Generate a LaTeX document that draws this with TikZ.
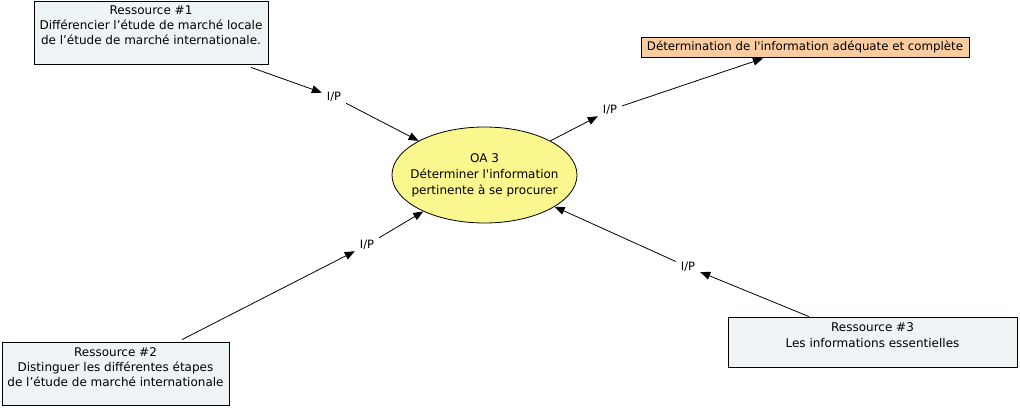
\documentclass[tikz,border=0pt]{standalone}
\usepackage{fontspec}
\setmainfont{DejaVu Sans}
\usetikzlibrary{arrows.meta,shapes.geometric}
\definecolor{boxfill}{RGB}{238,244,246}
\definecolor{ovalfill}{RGB}{250,247,142}
\definecolor{orangefill}{RGB}{251,204,160}
\newcommand{\sq}{\textquotesingle}
\tikzset{
  resbox/.style={draw=black, line width=0.8pt, fill=boxfill, rectangle, inner sep=0pt},
  restext/.style={align=center, inner sep=0pt, font=\fontsize{12}{15.2}\selectfont},
  goal/.style={draw=black, line width=0.8pt, fill=ovalfill, ellipse, inner sep=0pt,
    minimum width=185pt, minimum height=96pt},
  goaltext/.style={align=center, inner sep=0pt, font=\fontsize{12}{16}\selectfont},
  result/.style={draw=black, line width=0.8pt, fill=orangefill, rectangle, inner sep=0pt,
    minimum width=328pt, minimum height=20pt, font=\fontsize{11.8}{13}\selectfont},
  iplabel/.style={inner sep=0pt, minimum width=24pt, minimum height=14pt, font=\fontsize{11.5}{12}\selectfont},
  conn/.style={draw=black, line width=0.8pt, -{Triangle[length=10pt,width=8pt]}}
}
\begin{document}
\begin{tikzpicture}[x=1pt,y=-1pt]
\useasboundingbox (0,0) rectangle (1020,407);
% boxes
\node[resbox, minimum width=234pt, minimum height=63pt] (r1) at (151,32.5) {};
\node[restext, anchor=north] (t1) at ([yshift=-5pt]r1.north) {Ressource \#1\\Différencier l’étude de marché locale\\de l’étude de marché internationale.};
\node[resbox, minimum width=227pt, minimum height=63pt] (r2) at (115.5,373.5) {};
\node[restext, anchor=north] (t2) at ([yshift=-5.5pt]r2.north) {Ressource \#2\\Distinguer les différentes étapes\\de l’étude de marché internationale};
\node[resbox, minimum width=289pt, minimum height=50pt] (r3) at (872.5,342) {};
\node[restext, anchor=north, font=\fontsize{12}{16}\selectfont] (t3) at ([yshift=-6pt]r3.north) {Ressource \#3\\Les informations essentielles};
\node[goal] (oa) at (484.5,175) {};
\node[goaltext] (oat) at ([yshift=-0.5pt]oa.center) {OA 3\\Déterminer l\sq information\\pertinente à se procurer};
\node[result] (tg) at (805,47) {Détermination de l\sq information adéquate et complète};
% labels
\node[iplabel] (l1) at (334,97) {I/P};
\node[iplabel] (l2) at (367,245) {I/P};
\node[iplabel] (l3) at (688,267) {I/P};
\node[iplabel] (l4) at (610,110) {I/P};
% connectors
\draw[conn] ([xshift=100pt,yshift=-3pt]r1.south) -- (l1);
\draw[conn] (l1) -- (oa);
\draw[conn] ([xshift=66.5pt,yshift=2pt]r2.north) -- (l2);
\draw[conn] (l2) -- (oa);
\draw[conn] ([xshift=-63.5pt]r3.north) -- (l3);
\draw[conn] (l3) -- (oa);
\draw[conn] (oa) -- (l4);
\draw[conn] (l4) -- ([xshift=-42pt,yshift=-1pt]tg.south);
\end{tikzpicture}
\end{document}
